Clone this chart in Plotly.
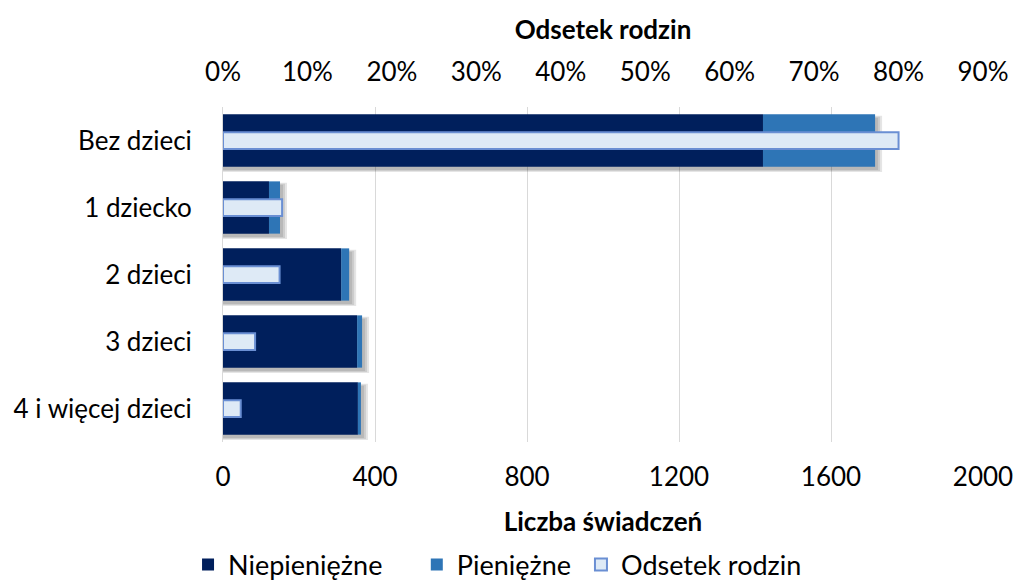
import plotly.graph_objects as go

categories = ["Bez dzieci", "1 dziecko", "2 dzieci", "3 dzieci", "4 i więcej dzieci"]
niepieniezne = [1421, 121, 311, 353, 355]
pieniezne = [295, 29, 21, 13, 8]
odsetek = [0.80, 0.07, 0.067, 0.038, 0.021]

top_ticks = [i / 10 for i in range(10)]
bottom_ticks = [0, 400, 800, 1200, 1600, 2000]

FONT = "Lato"
TXT = "#000000"
FS = 26
BAR_W = 0.78
PX = 2000 / 760  # data units per pixel on the bottom axis

totals = [a + b for a, b in zip(niepieniezne, pieniezne)]

fig = go.Figure()

# soft drop shadow (derived from the stacked totals)
for k in range(3):
    w = BAR_W + 0.03 * k
    fig.add_trace(go.Bar(
        y=categories, x=[t + PX * (3 + 2 * k) for t in totals], orientation="h",
        base=0, width=w, offset=-w / 2 + 0.05,
        marker=dict(color="rgba(0,0,0,0.10)", line=dict(width=0)),
        showlegend=False, hoverinfo="skip", xaxis="x", yaxis="y",
    ))

fig.add_trace(go.Bar(
    y=categories, x=niepieniezne, name="Niepieniężne", orientation="h",
    marker=dict(color="#001F5C", line=dict(width=0)), width=BAR_W,
    xaxis="x", yaxis="y", legend="legend",
))
fig.add_trace(go.Bar(
    y=categories, x=pieniezne, base=niepieniezne, name="Pieniężne", orientation="h",
    marker=dict(color="#2E75B6", line=dict(width=0)), width=BAR_W,
    xaxis="x", yaxis="y", legend="legend2",
))
fig.add_trace(go.Bar(
    y=categories, x=odsetek, name="Odsetek rodzin", orientation="h",
    marker=dict(color="#DEEAF6", line=dict(color="#6A8FD3", width=2)), width=0.25,
    xaxis="x2", yaxis="y", legend="legend3",
))

leg_common = dict(orientation="h", xanchor="left", y=-0.294, yanchor="top",
                  font=dict(size=27, family=FONT, color=TXT), itemwidth=30,
                  bgcolor="rgba(0,0,0,0)")

fig.update_layout(
    width=1013, height=582,
    margin=dict(l=223, r=30, t=107, b=140, autoexpand=False),
    paper_bgcolor="white", plot_bgcolor="white",
    barmode="overlay",
    font=dict(family=FONT, size=FS, color=TXT),
    showlegend=True,
    legend=dict(x=-0.046, **leg_common),
    legend2=dict(x=0.255, **leg_common),
    legend3=dict(x=0.471, **leg_common),
    xaxis=dict(
        range=[0, 2000], tickvals=bottom_ticks, side="bottom",
        showgrid=True, gridcolor="#D9D9D9", gridwidth=1,
        zeroline=False, showline=False, ticks="", automargin=False,
        ticklabelstandoff=17, ticklabeloverflow="allow",
        tickfont=dict(size=FS, family=FONT, color=TXT),
        title=dict(text="<b>Liczba świadczeń</b>", font=dict(size=FS, family=FONT, color=TXT), standoff=21),
    ),
    xaxis2=dict(
        range=[0, 0.9], tickvals=top_ticks, tickformat=".0%", side="top",
        overlaying="x", showgrid=False, zeroline=False, showline=False, ticks="",
        automargin=False, ticklabelstandoff=20, ticklabeloverflow="allow",
        tickfont=dict(size=FS, family=FONT, color=TXT),
        title=dict(text="<b>Odsetek rodzin</b>", font=dict(size=FS, family=FONT, color=TXT), standoff=7),
    ),
    yaxis=dict(
        autorange="reversed", showgrid=False, zeroline=False,
        showline=True, linecolor="#D9D9D9", linewidth=1, ticks="",
        automargin=False, ticklabelstandoff=25,
        tickfont=dict(size=FS, family=FONT, color=TXT),
    ),
)

fig.write_html(
    "out.html",
    config={"displayModeBar": False},
    post_script="document.body.style.margin='0';document.body.style.overflow='hidden';",
)
